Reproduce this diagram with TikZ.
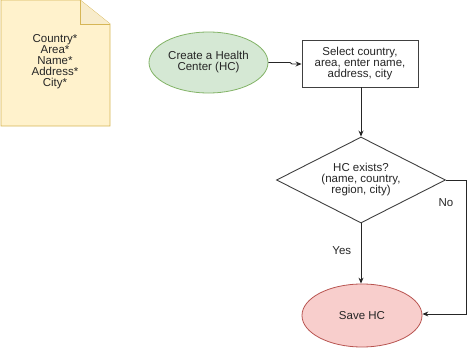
\documentclass[tikz,border=0pt]{standalone}
\usepackage{fontspec}
\setmainfont{Liberation Sans}
\usetikzlibrary{shapes.geometric,arrows.meta}
\definecolor{noteFill}{HTML}{FFF2CC}
\definecolor{noteLine}{HTML}{D6B656}
\definecolor{greenFill}{HTML}{D5E8D4}
\definecolor{greenLine}{HTML}{82B366}
\definecolor{redFill}{HTML}{F8CECC}
\definecolor{redLine}{HTML}{B85450}
\begin{document}
\begin{tikzpicture}[x=1pt,y=-1pt,
  lbl/.style={font=\fontsize{11.5}{11}\selectfont, align=center, text=black!85},
  conn/.style={draw=black!85, line width=0.9pt, -{Stealth[length=6pt,width=5pt]}},
  boxstyle/.style={draw=black!75, line width=0.9pt, fill=white, minimum width=116pt, minimum height=47pt, inner sep=0pt},
  startell/.style={ellipse, draw=greenLine, fill=greenFill, line width=0.8pt, minimum width=119pt, minimum height=61pt, inner sep=0pt},
  endell/.style={ellipse, draw=redLine, fill=redFill, line width=0.8pt, minimum width=120pt, minimum height=63pt, inner sep=0pt},
  dia/.style={diamond, draw=black!75, fill=white, line width=0.9pt, aspect=1.97, minimum width=169pt, minimum height=86pt, inner sep=0pt}
]
\useasboundingbox (0,0) rectangle (467,348);
% note
\fill[noteFill] (1,0) -- (80,0) -- (110,24) -- (110,126) -- (1,126) -- cycle;
\draw[noteLine, line width=0.8pt] (1,0) -- (80,0) -- (110,24) -- (110,126) -- (1,126) -- cycle;
\fill[noteFill!70!noteLine!60] (80,0) -- (80,24) -- (110,24) -- cycle;
\draw[noteLine, line width=0.8pt] (80,0) -- (80,24) -- (110,24);
\node[lbl] (note) at (55,62) {Country*\\Area*\\Name*\\Address*\\City*};

\node[startell, lbl] (start) at (208.5,62.5) {Create a Health\\Center (HC)};
\node[boxstyle, lbl] (sel) at (360,63.5) {Select country,\\area, enter name,\\address, city};
\node[dia, lbl] (dec) at (361,180) {HC exists?\\(name, country,\\region, city)};
\node[endell, lbl] (save) at (362,315.5) {Save HC};

\coordinate (j1) at (290,62.5);
\coordinate (j2) at (292,64);
\draw[conn] (start.east) -- (j1) -- (j2) -- (sel.west |- j2);
\draw[conn] (sel.south -| dec.north) -- (dec.north);
\draw[conn] (dec.south) -- node[lbl, left=6pt, pos=0.45] (yes) {Yes} (save.north -| dec.south);
\coordinate (c1) at (466,180);
\coordinate (c2) at (466,314);
\draw[conn] (dec.east) -- (c1) -- (c2) -- (save.east |- c2);
\node[lbl] (no) at (446,203) {No};
\end{tikzpicture}
\end{document}
